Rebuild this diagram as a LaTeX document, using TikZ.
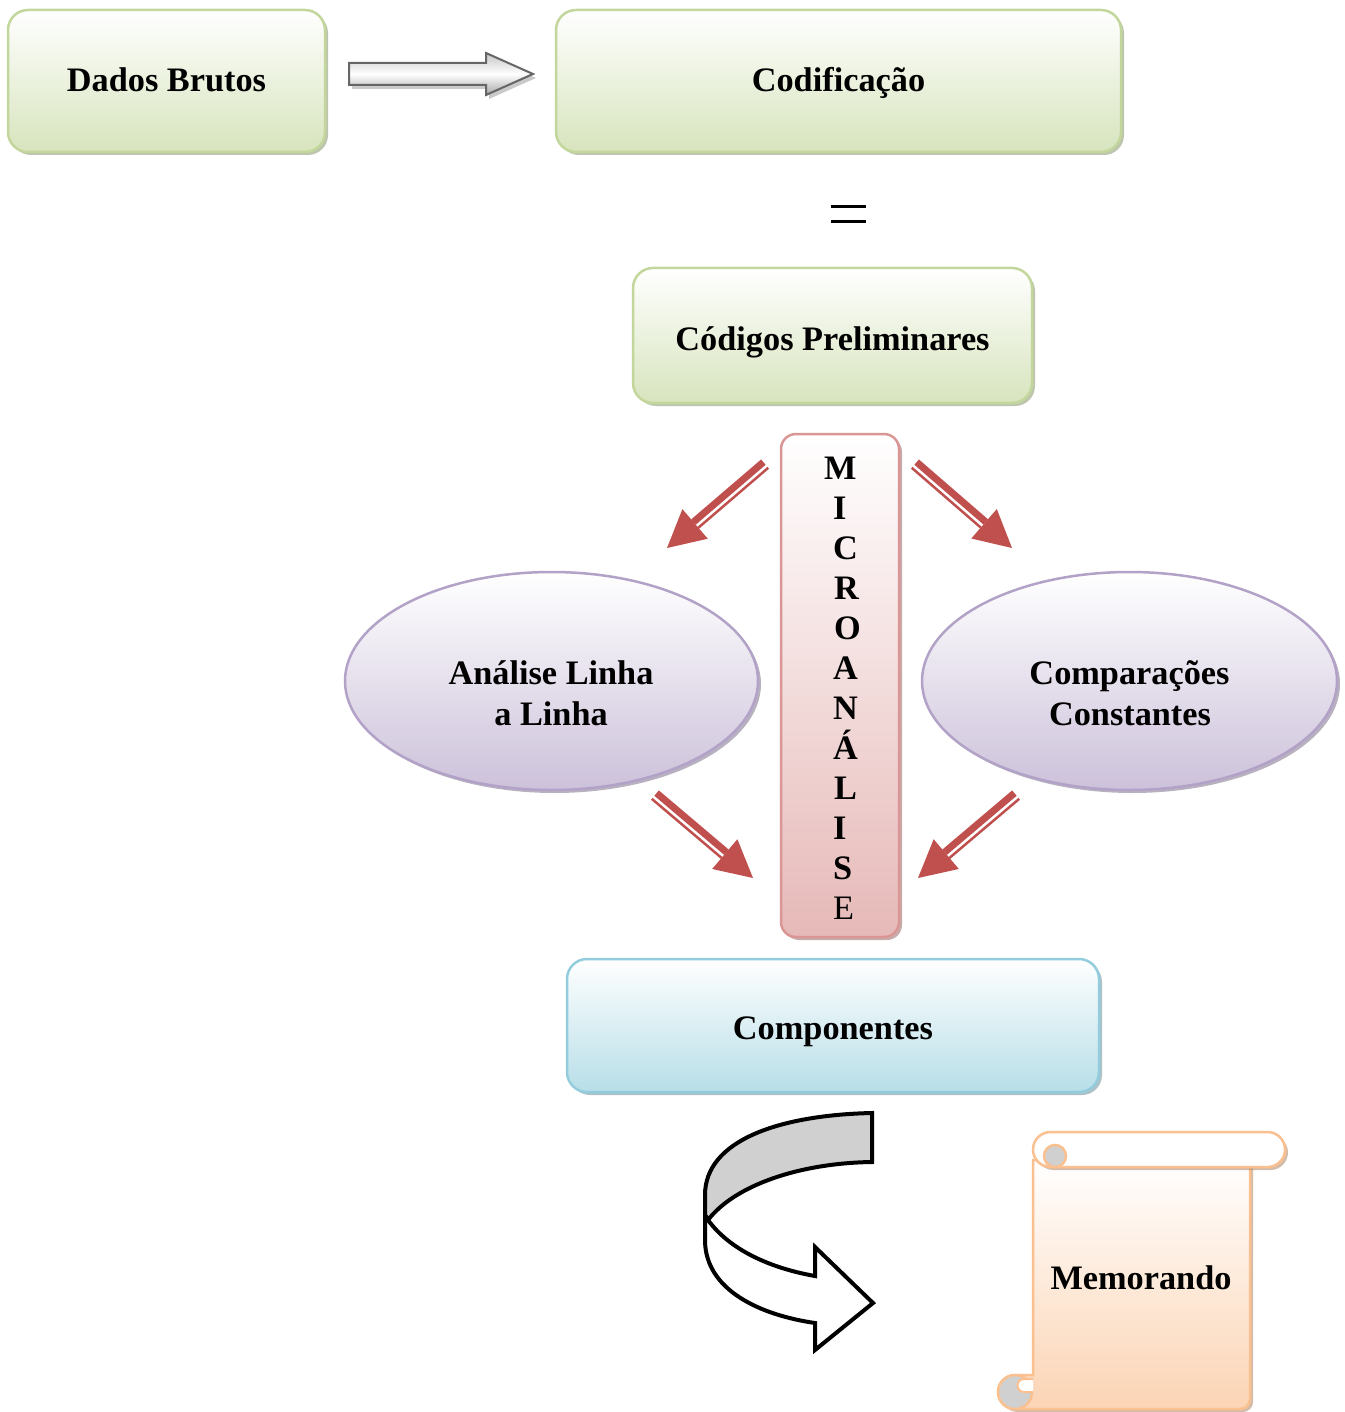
\documentclass[tikz,border=0pt]{standalone}
\usepackage{fontspec}
\setmainfont{Liberation Serif}
\usetikzlibrary{calc,shapes.geometric,shadows}

\definecolor{greenline}{HTML}{C3D69B}
\definecolor{greenfill}{HTML}{D7E4BD}
\definecolor{redline}{HTML}{D99694}
\definecolor{redfill}{HTML}{E6B9B8}
\definecolor{purpline}{HTML}{B3A2C7}
\definecolor{purpfill}{HTML}{CCC1DA}
\definecolor{blueline}{HTML}{93CDDD}
\definecolor{bluefill}{HTML}{B7DEE8}
\definecolor{orline}{HTML}{FAC090}
\definecolor{orfill}{HTML}{FBD4B4}
\definecolor{arrowred}{HTML}{C0504D}
\definecolor{curlgrey}{HTML}{D0D0D0}
\definecolor{blockgrey}{HTML}{666666}

\tikzset{
  lbl/.style={font=\fontsize{34.3}{41}\selectfont\bfseries, text height=22pt, text depth=0pt, inner sep=0pt},
  card/.style={rectangle, rounded corners=#1, line width=2.5pt, lbl},
  softshadow/.style={drop shadow={shadow xshift=3pt, shadow yshift=-3pt, fill=#1, opacity=0.55}},
  greenbox/.style={card=20pt, draw=greenline, top color=white, bottom color=greenfill, softshadow=greenline!70!black},
  redbox/.style={card=15pt, draw=redline, top color=white, bottom color=redfill, softshadow=redline!70!black},
  bluebox/.style={card=20pt, draw=blueline, top color=white, bottom color=bluefill, softshadow=blueline!70!black},
  purpell/.style={ellipse, inner sep=0pt, line width=2.5pt, draw=purpline, top color=white, bottom color=purpfill, softshadow=purpline!70!black},
  uturn/.style={draw=black, line width=4pt, line join=miter},
}

% striped block arrow: #1 start, #2 tip, #3 side of the wide bar, #4 side of the narrow bar
\newcommand\stripearrow[4]{%
  \coordinate (sh) at ($(#2)!37pt!(#1)$);
  \fill[arrowred] (#2) -- ($(sh)!19.5pt!90:(#2)$) -- ($(sh)!19.5pt!-90:(#2)$) -- cycle;
  \draw[arrowred, line width=7pt] ($(#1)!2.5pt!#3:(#2)$) -- ($(sh)!2.5pt!#3:(#2)$);
  \draw[arrowred, line width=2.5pt] ($(#1)!5pt!#4:(#2)$) -- ($(sh)!5pt!#4:(#2)$);
}

\begin{document}
\begin{tikzpicture}[x=1pt,y=-1pt]
\useasboundingbox (0,0) rectangle (1344,1412);

% top row
\node[greenbox, minimum width=317pt, minimum height=142pt] (dados) at (166.5,81) {Dados Brutos};
\node[greenbox, minimum width=565pt, minimum height=142pt] (codif) at (838.5,81) {Codificação};

% grey block arrow between the two top boxes
\coordinate (ga) at (349,74);
\coordinate (gb) at (533,74);
\draw[draw=blockgrey, line width=2pt, top color=gray!45, bottom color=gray!70, middle color=white,
      drop shadow={shadow xshift=3pt, shadow yshift=-4pt, fill=gray!70, opacity=0.6}]
  ($(ga)+(0,-11)$) -- (486,63) -- (486,53) -- (gb) -- (486,95) -- (486,85) -- ($(ga)+(0,11)$) -- cycle;

% equals sign
\draw[line width=3pt] (831,207) -- (866,207);
\draw[line width=3pt] (831,222) -- (866,222);

\node[greenbox, minimum width=399pt, minimum height=135pt, text height=29pt] (prelim) at (832.5,335.5) {Códigos Preliminares};

% vertical micro-analysis bar
\node[redbox, minimum width=118pt, minimum height=503pt] (micro) at (840,685.5) {};
\foreach \ch/\xx/\k in {M/824/0, I/833/1, C/833/2, R/834/3, O/834/4, A/833/5, N/833/6, Á/833/7, L/834/8, I/833/9, S/833/10}
  \node[lbl, anchor=base west] (mi\k) at (\xx, 479+40*\k) {\ch};
\node[lbl, anchor=base west, font=\fontsize{34.3}{41}\selectfont] (mi11) at (833, 919) {E};

% ellipses
\node[purpell, minimum width=413pt, minimum height=218pt] (linha) at (551.5,681) {};
\node[lbl, anchor=base] (linhaA) at (551,684) {Análise Linha};
\node[lbl, anchor=base] (linhaB) at (551,725) {a Linha};
\node[purpell, minimum width=415pt, minimum height=218pt] (compar) at (1129.5,681) {};
\node[lbl, anchor=base] (comparA) at (1129.5,684) {Comparações};
\node[lbl, anchor=base] (comparB) at (1130,725) {Constantes};

% red striped arrows
\coordinate (tlA) at (765,464); \coordinate (tlB) at (667,548);
\coordinate (trA) at (915,464); \coordinate (trB) at (1012,548);
\coordinate (blA) at (655,795); \coordinate (blB) at (753,878);
\coordinate (brA) at (1016,795); \coordinate (brB) at (918,878);
\stripearrow{tlA}{tlB}{-90}{90}
\stripearrow{trA}{trB}{90}{-90}
\stripearrow{blA}{blB}{90}{-90}
\stripearrow{brA}{brB}{-90}{90}

% components
\node[bluebox, minimum width=532pt, minimum height=133pt, text height=27pt] (comp) at (833,1025.5) {Componentes};

% U-turn arrow
\draw[uturn, fill=curlgrey]
  (872,1113) -- (872,1162) .. controls (800,1163) and (735,1185) .. (708,1220)
  -- (705,1215) -- (705,1195) .. controls (705,1140) and (780,1115) .. (872,1113) -- cycle;
\draw[uturn, fill=white]
  (708,1220) .. controls (730,1250) and (770,1268) .. (815,1276)
  -- (815,1247) -- (873,1303) -- (815,1350) -- (815,1323)
  .. controls (760,1315) and (705,1290) .. (705,1240) -- (705,1215) -- cycle;

% scroll
\draw[line width=2.5pt, draw=orline, top color=white, bottom color=orfill, softshadow=orline!70!black]
  (1250,1160) -- (1250,1399) arc[start angle=0, end angle=90, radius=10]
  -- (1015,1409) arc[start angle=90, end angle=270, radius=17]
  -- (1033,1375) -- (1033,1160) -- cycle;
\draw[line width=2.5pt, draw=orline, fill=white, rounded corners=17.5pt, softshadow=orline!70!black]
  (1033,1132) rectangle (1285,1167);
\draw[line width=2.5pt, draw=orline, fill=curlgrey] (1055,1156) circle[radius=11];
\draw[line width=2.5pt, draw=orline, fill=curlgrey] (1015,1392) circle[radius=17];
\draw[line width=2pt, draw=orline, fill=white]
  (1033,1379) -- (1024,1379) arc[start angle=-90, end angle=-270, radius=6.5] -- (1033,1392);
\node[lbl, anchor=base] (memo) at (1141,1289) {Memorando};

\end{tikzpicture}
\end{document}
